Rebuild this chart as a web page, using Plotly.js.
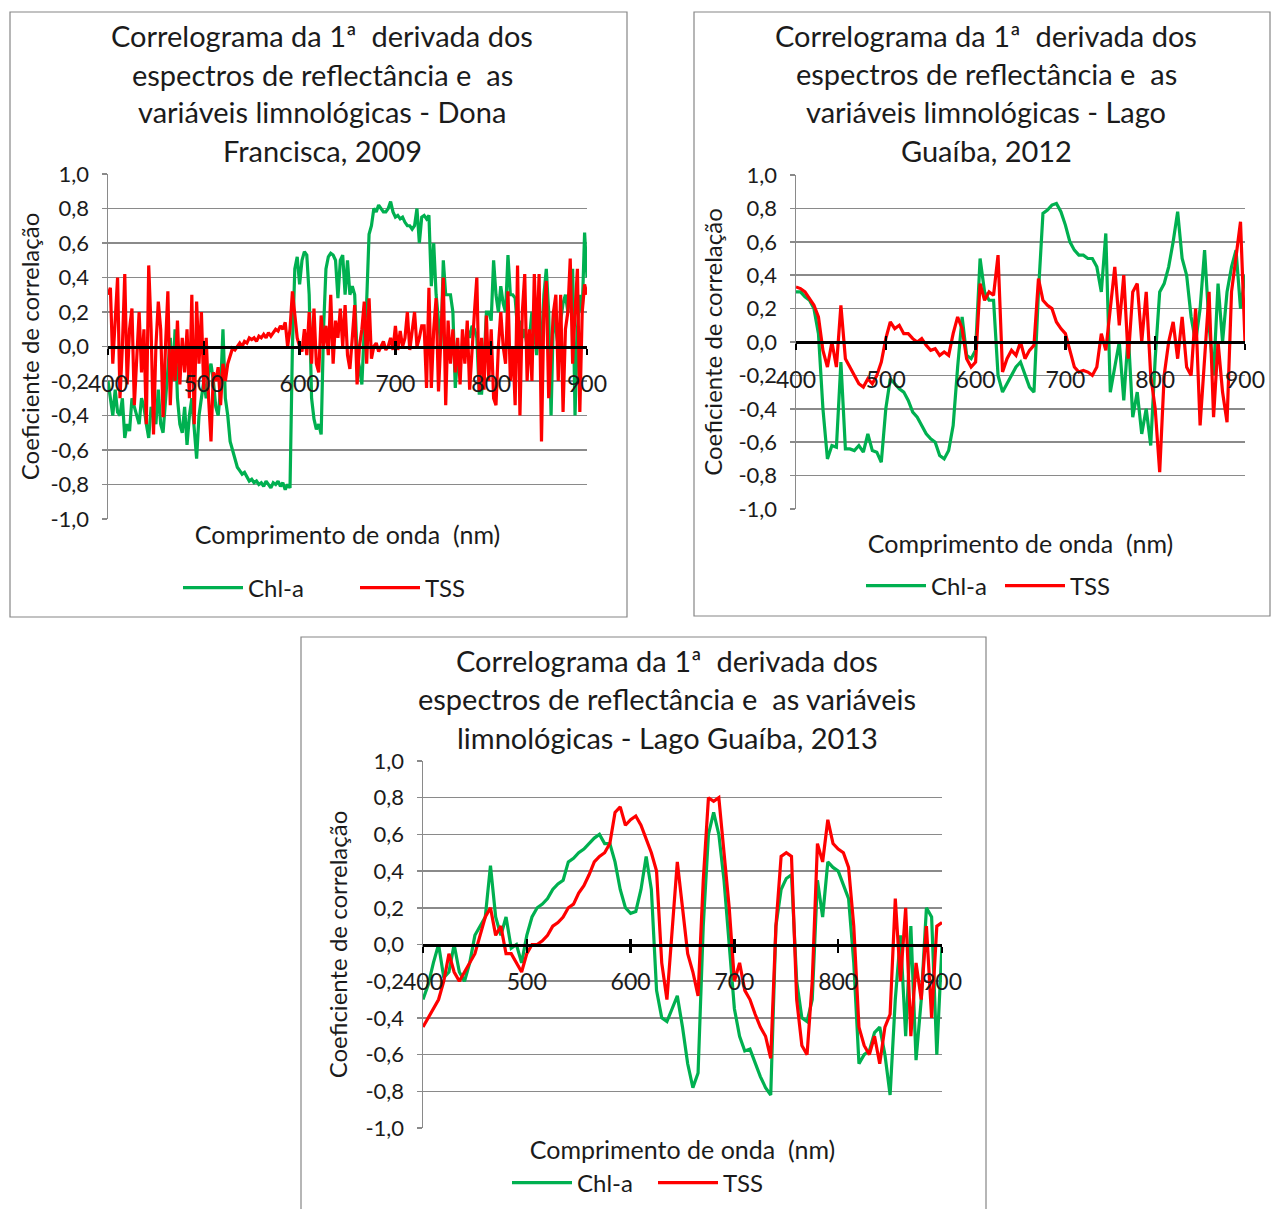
<!DOCTYPE html>
<html><head><meta charset="utf-8">
<script src="https://cdn.plot.ly/plotly-3.0.1.min.js"></script>
<style>html,body{margin:0;padding:0;background:#fff}#chart{width:1271px;height:1209px}</style>
</head><body><div id="chart"></div>
<script>
// ---------- data (wavelength grid: start 400 nm) ----------
const seriesNames = ['Chl-a', 'TSS'];
const wlStart = 400;
const p1Step = 2.5;   // Dona Francisca 2009 sampled every 2.5 nm
const p23Step = 5;    // Lago Guaíba 2012 / 2013 sampled every 5 nm

const p1Chl = [
 -0.2,-0.3,-0.4,-0.25, -0.38,-0.4,-0.3,-0.53, -0.45,-0.49,-0.3,-0.35, -0.4,-0.45,-0.3,-0.35,
 -0.45,-0.53,-0.35,-0.4, -0.45,-0.25,-0.45,-0.5, -0.3,-0.1,0.05,-0.2, 0.1,-0.3,-0.45,-0.5,
 -0.35,-0.57,-0.4,-0.3, -0.5,-0.65,-0.4,-0.3, -0.2,-0.3,-0.15,-0.1, -0.2,-0.35,-0.4,-0.25,
 0.1,-0.3,-0.4,-0.55, -0.6,-0.65,-0.7,-0.72, -0.74,-0.73,-0.76,-0.78, -0.77,-0.79,-0.78,-0.8,
 -0.79,-0.81,-0.78,-0.8, -0.82,-0.79,-0.8,-0.78, -0.81,-0.79,-0.83,-0.8, -0.82,0.0,0.45,0.52,
 0.36,0.5,0.55,0.53, 0.3,-0.3,-0.42,-0.48, -0.45,-0.51,0.1,0.45, 0.52,0.54,0.53,0.5,
 0.28,0.5,0.53,0.3, 0.5,0.3,0.35,0.3, -0.05,-0.12,-0.22,0.1, 0.26,0.65,0.7,0.8,
 0.78,0.82,0.8,0.78, 0.78,0.8,0.84,0.78, 0.75,0.76,0.74,0.75, 0.72,0.7,0.7,0.68,
 0.7,0.8,0.6,0.75, 0.76,0.74,0.76,0.35, 0.6,0.3,0.15,0.0, 0.5,0.3,0.3,0.3,
 0.2,-0.24,-0.05,-0.05, 0.0,-0.05,0.1,0.05, 0.12,0.1,0.05,-0.27, -0.27,-0.1,0.2,0.2,
 0.15,0.5,0.3,0.2, 0.35,0.25,0.2,0.53, 0.3,0.3,0.28,0.1, 0.15,0.05,0.1,0.0,
 0.05,0.2,0.1,-0.05, 0.15,0.0,0.3,0.45, 0.2,-0.4,0.2,0.1, 0.0,0.15,0.25,0.3,
 0.2,0.35,0.45,-0.4, 0.1,0.3,0.2,0.66, 0.4
];
const p1Tss = [
 0.3,0.34,-0.1,0.2, 0.4,-0.3,0.0,0.42, -0.22,0.1,0.22,-0.34, -0.1,0.2,-0.15,0.1,
 -0.45,0.47,0.1,-0.51, 0.0,0.26,0.1,-0.41, 0.0,0.32,-0.34,0.0, -0.2,0.15,-0.22,0.05,
 -0.15,0.1,-0.3,0.3, -0.45,0.26,-0.1,0.2, -0.25,0.05,-0.3,-0.55, -0.15,-0.2,-0.12,-0.34,
 -0.1,-0.2,-0.1,-0.05, -0.01,-0.02,0.0,0.02, 0.0,0.03,0.02,0.05, 0.04,0.05,0.03,0.06,
 0.05,0.07,0.05,0.08, 0.06,0.08,0.1,0.09, 0.12,0.1,0.14,0.0, 0.1,0.32,0.16,0.05,
 0.0,-0.03,0.1,-0.05, 0.2,-0.1,0.22,-0.1, -0.15,0.18,0.0,0.12, -0.05,0.3,-0.1,0.15,
 0.05,0.22,0.0,0.24, -0.05,-0.13,0.05,0.24, -0.22,0.0,0.1,0.26, -0.1,0.28,-0.07,0.0,
 0.02,-0.03,0.0,0.03, -0.02,0.0,0.05,-0.02, 0.12,-0.02,0.09,0.0, 0.05,0.2,-0.02,0.1,
 0.2,0.0,0.05,0.12, 0.12,-0.24,0.34,-0.24, 0.1,0.28,-0.26,0.05, 0.4,-0.34,0.15,-0.1,
 0.1,-0.15,0.05,-0.22, 0.1,-0.1,0.15,-0.25, 0.0,0.2,0.4,-0.26, 0.05,-0.25,0.18,-0.2,
 0.1,-0.3,-0.34,0.0, 0.2,0.0,-0.1,0.32, -0.2,0.0,-0.34,0.47, -0.4,0.2,0.42,-0.2,
 0.1,-0.2,0.42,0.0, 0.42,-0.55,0.2,0.38, -0.3,0.0,0.2,0.3, -0.2,0.3,-0.38,0.1,
 0.2,0.51,-0.1,0.2, 0.45,-0.38,0.2,0.36, 0.3
];
const p2Chl = [
 0.3,0.3,0.27,0.25,0.2,0.05,-0.4,-0.7,-0.62,-0.63,
 -0.12,-0.64,-0.64,-0.65,-0.62,-0.66,-0.55,-0.65,-0.66,-0.72,
 -0.4,-0.22,-0.25,-0.28,-0.3,-0.35,-0.42,-0.45,-0.5,-0.55,
 -0.58,-0.6,-0.68,-0.7,-0.65,-0.5,-0.15,0.15,-0.08,-0.1,
 -0.05,0.5,0.3,0.25,0.25,-0.2,-0.3,-0.25,-0.2,-0.15,
 -0.12,-0.2,-0.27,-0.3,0.3,0.77,0.79,0.82,0.83,0.78,
 0.7,0.6,0.55,0.52,0.52,0.5,0.5,0.45,0.3,0.65,
 -0.3,-0.15,0.0,-0.35,0.05,-0.45,-0.3,-0.55,-0.4,-0.62,
 -0.1,0.3,0.35,0.45,0.6,0.78,0.5,0.4,0.15,0.0,
 0.2,0.55,0.1,-0.2,0.35,0.0,0.3,0.45,0.55,0.2,
 0.4
];
const p2Tss = [
 0.33,0.32,0.3,0.26,0.22,0.15,-0.05,-0.15,0.0,-0.15,
 0.22,-0.1,-0.15,-0.2,-0.25,-0.27,-0.22,-0.25,-0.2,-0.12,
 0.02,0.12,0.08,0.1,0.05,0.05,0.02,0.0,0.02,-0.02,
 -0.05,-0.04,-0.08,-0.06,-0.08,0.05,0.15,0.08,-0.1,-0.15,
 -0.12,0.35,0.25,0.3,0.28,0.52,-0.18,-0.1,-0.05,-0.08,
 0.0,-0.1,-0.05,-0.02,0.38,0.25,0.22,0.2,0.12,0.08,
 0.05,-0.05,-0.15,-0.18,-0.17,-0.18,-0.2,-0.15,0.05,-0.05,
 0.2,0.45,0.1,0.4,-0.1,0.3,0.35,0.0,0.3,-0.2,
 -0.4,-0.78,-0.2,0.0,0.12,-0.1,0.15,-0.15,-0.2,0.2,
 -0.5,-0.1,0.3,-0.45,0.0,-0.3,-0.48,0.3,0.5,0.72,
 0.0
];
const p3Chl = [
 -0.3,-0.22,-0.1,0.0,-0.18,-0.15,0.0,-0.15,-0.2,-0.1,
 0.05,0.1,0.15,0.43,0.15,0.05,0.15,-0.02,0.0,-0.1,
 0.05,0.15,0.2,0.22,0.25,0.3,0.33,0.35,0.45,0.47,
 0.5,0.52,0.55,0.58,0.6,0.55,0.55,0.45,0.3,0.2,
 0.17,0.18,0.3,0.48,0.3,-0.25,-0.4,-0.42,-0.35,-0.28,
 -0.45,-0.65,-0.78,-0.7,0.1,0.6,0.72,0.6,0.35,0.0,
 -0.35,-0.5,-0.58,-0.57,-0.65,-0.72,-0.78,-0.82,0.1,0.3,
 0.36,0.38,-0.2,-0.4,-0.42,-0.3,0.35,0.15,0.45,0.42,
 0.4,0.32,0.25,-0.1,-0.65,-0.6,-0.58,-0.48,-0.45,-0.6,
 -0.82,-0.3,0.05,-0.5,0.1,-0.63,-0.3,0.2,0.15,-0.6,
 0.0
];
const p3Tss = [
 -0.45,-0.4,-0.35,-0.3,-0.2,-0.05,-0.15,-0.2,-0.15,-0.1,
 -0.05,0.05,0.15,0.2,0.05,0.1,-0.05,-0.05,-0.1,-0.15,
 -0.05,0.0,0.0,0.02,0.05,0.1,0.12,0.15,0.2,0.22,
 0.28,0.32,0.38,0.45,0.48,0.5,0.55,0.72,0.75,0.65,
 0.68,0.7,0.65,0.58,0.5,0.4,-0.1,-0.3,0.05,0.45,
 0.2,-0.05,-0.15,-0.28,0.35,0.8,0.78,0.8,0.5,0.2,
 -0.2,-0.1,-0.25,-0.3,-0.38,-0.45,-0.5,-0.62,0.1,0.48,
 0.5,0.48,-0.3,-0.55,-0.6,-0.2,0.55,0.45,0.68,0.55,
 0.52,0.5,0.42,0.1,-0.45,-0.55,-0.6,-0.5,-0.65,-0.45,
 -0.38,0.25,-0.2,0.2,-0.5,-0.1,-0.3,0.1,-0.4,0.1,
 0.12
];
const xTickVals = [400, 500, 600, 700, 800, 900];
const xTickText = ['400', '500', '600', '700', '800', '900'];
const yTickVals = [-1, -0.8, -0.6, -0.4, -0.2, 0, 0.2, 0.4, 0.6, 0.8, 1];
const yTickText = ['-1,0', '-0,8', '-0,6', '-0,4', '-0,2', '0,0', '0,2', '0,4', '0,6', '0,8', '1,0'];
const titles = [
  ['Correlograma da 1ª  derivada dos', 'espectros de reflectância e  as', 'variáveis limnológicas - Dona', 'Francisca, 2009'],
  ['Correlograma da 1ª  derivada dos', 'espectros de reflectância e  as', 'variáveis limnológicas - Lago', 'Guaíba, 2012'],
  ['Correlograma da 1ª  derivada dos', 'espectros de reflectância e  as variáveis', 'limnológicas - Lago Guaíba, 2013']
];
const xTitle = 'Comprimento de onda  (nm)';
const yTitle = 'Coeficiente de correlação';

// ---------- layout geometry (pixels) ----------
const W = 1271, H = 1209;
const fx = x => x / W, fy = y => 1 - y / H;
const FONT = 'Lato, "Open Sans", sans-serif';
const TXT = '#1b1b1b';
const GREEN = '#00B050', RED = '#FF0000', GRID = '#8a8a8a';

const panels = [
  {plot: [108, 587, 174, 519], box: [10, 627, 12, 617], titleX: 322, titleY: [36, 74, 112, 150],
   legendY: 588, legendX: 178, entry: 102, xStand: 7, yStand: 4},
  {plot: [796, 1245, 175, 509], box: [694, 1270, 12, 616], titleX: 986, titleY: [36, 73, 112, 150],
   legendY: 586, legendX: 861, entry: 64, xStand: 26, yStand: 9},
  {plot: [423, 942, 761, 1128], box: [301, 986, 637, 1212], titleX: 667, titleY: [660, 698, 737],
   legendY: 1183, legendX: 507, entry: 71, xStand: 13, yStand: 11}
];
const dataSets = [[p1Chl, p1Tss, p1Step], [p2Chl, p2Tss, p23Step], [p3Chl, p3Tss, p23Step]];

const traces = [];
const layout = {
  width: W, height: H, margin: {l: 0, r: 0, t: 0, b: 0},
  paper_bgcolor: '#fff', plot_bgcolor: 'rgba(0,0,0,0)',
  font: {family: FONT, color: TXT, size: 22},
  shapes: [], annotations: []
};

panels.forEach((p, i) => {
  const n = i + 1;
  const xa = 'x' + n, ya = 'y' + n;
  const xKey = 'xaxis' + n, yKey = 'yaxis' + n;
  const ovKey = 'xaxis' + (n + 3), inKey = 'xaxis' + (n + 6);
  const legKey = n === 1 ? 'legend' : 'legend' + n;
  const [chl, tss, step] = dataSets[i];
  traces.push({type: 'scatter', mode: 'lines', x0: wlStart, dx: step, y: chl, name: seriesNames[0],
    xaxis: xa, yaxis: ya, legend: legKey, line: {color: GREEN, width: 3.2}, hoverinfo: 'skip'});
  traces.push({type: 'scatter', mode: 'lines', x0: wlStart, dx: step, y: tss, name: seriesNames[1],
    xaxis: xa, yaxis: ya, legend: legKey, line: {color: RED, width: 3.2}, hoverinfo: 'skip'});
  // empty traces so that the zero-crossing wavelength axes (ticks below and above the line) get drawn
  traces.push({type: 'scatter', mode: 'lines', x: [], y: [], xaxis: 'x' + (n + 3), yaxis: ya,
    showlegend: false, hoverinfo: 'skip'});
  traces.push({type: 'scatter', mode: 'lines', x: [], y: [], xaxis: 'x' + (n + 6), yaxis: ya,
    showlegend: false, hoverinfo: 'skip'});

  const [l, r, t, b] = p.plot;
  const zeroPx = (t + b) / 2;
  layout[xKey] = {domain: [fx(l), fx(r)], anchor: ya, range: [400, 900], showgrid: false, zeroline: false,
    showline: false, ticks: '', showticklabels: false, fixedrange: true,
    title: {text: xTitle, font: {size: 25, color: TXT}, standoff: p.xStand}};
  layout[ovKey] = {overlaying: xa, anchor: 'free', position: fy(zeroPx), range: [400, 900],
    tickvals: xTickVals, ticktext: xTickText, showgrid: false, zeroline: false,
    showline: true, linecolor: '#000', linewidth: 3, ticks: 'outside', ticklen: 6, tickwidth: 2.5, tickcolor: '#000',
    tickfont: {size: 23, color: TXT}, ticklabelstandoff: 10, fixedrange: true};
  layout[inKey] = {overlaying: xa, anchor: 'free', position: fy(zeroPx), range: [400, 900],
    tickvals: xTickVals, showticklabels: false, showgrid: false, zeroline: false, showline: false,
    ticks: 'inside', ticklen: 6, tickwidth: 2.5, tickcolor: '#000', fixedrange: true};
  layout[yKey] = {domain: [fy(b), fy(t)], anchor: xa, range: [-1, 1], tickvals: yTickVals, ticktext: yTickText,
    showgrid: true, gridcolor: GRID, gridwidth: 1.5, zeroline: false, showline: true, linecolor: GRID, linewidth: 1.5,
    ticks: 'outside', ticklen: 5, tickcolor: GRID, tickwidth: 1.5, tickfont: {size: 22, color: TXT},
    ticklabelstandoff: 8, fixedrange: true,
    title: {text: yTitle, font: {size: 24, color: TXT}, standoff: p.yStand}};
  layout[legKey] = {orientation: 'h', x: fx(p.legendX), xanchor: 'left', y: fy(p.legendY), yanchor: 'middle',
    bgcolor: 'rgba(0,0,0,0)', font: {size: 24, color: TXT}, itemwidth: 60, entrywidth: p.entry, entrywidthmode: 'pixels'};

  const [bx0, bx1, by0, by1] = p.box;
  layout.shapes.push({type: 'rect', xref: 'paper', yref: 'paper', x0: fx(bx0), x1: fx(bx1), y0: fy(by1), y1: fy(by0),
    line: {color: '#868686', width: 1.2}, fillcolor: 'rgba(0,0,0,0)', layer: 'below'});
  titles[i].forEach((line, k) => {
    layout.annotations.push({text: line, xref: 'paper', yref: 'paper', x: fx(p.titleX), y: fy(p.titleY[k]),
      xanchor: 'center', yanchor: 'middle', showarrow: false, font: {size: 29, color: TXT}});
  });
});

Plotly.newPlot('chart', traces, layout, {staticPlot: true, displayModeBar: false});
</script></body></html>
